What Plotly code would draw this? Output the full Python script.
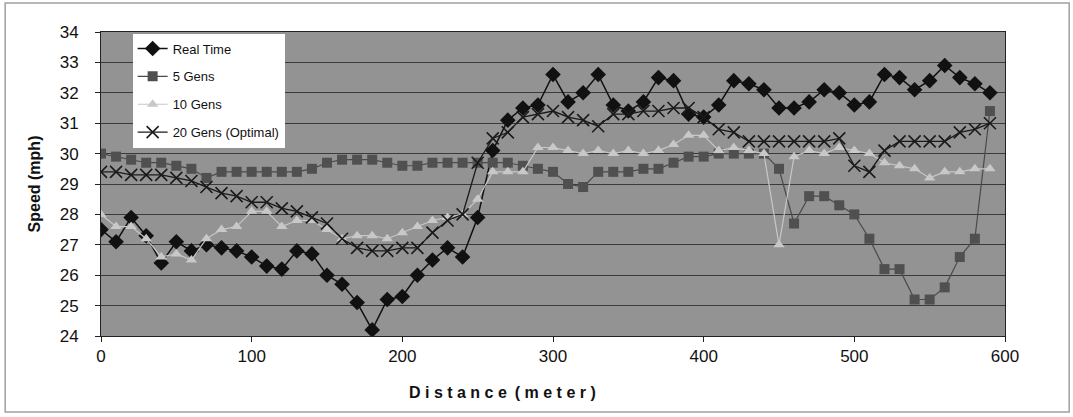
import plotly.graph_objects as go

distance = list(range(0, 600, 10))

real_time = [27.5, 27.1, 27.9, 27.3, 26.4, 27.1, 26.8, 27.0, 26.9, 26.8,
             26.6, 26.3, 26.2, 26.8, 26.7, 26.0, 25.7, 25.1, 24.2, 25.2,
             25.3, 26.0, 26.5, 26.9, 26.6, 27.9, 30.1, 31.1, 31.5, 31.6,
             32.6, 31.7, 32.0, 32.6, 31.6, 31.4, 31.7, 32.5, 32.4, 31.3,
             31.2, 31.6, 32.4, 32.3, 32.1, 31.5, 31.5, 31.7, 32.1, 32.0,
             31.6, 31.7, 32.6, 32.5, 32.1, 32.4, 32.9, 32.5, 32.3, 32.0]

gens5 = [30.0, 29.9, 29.8, 29.7, 29.7, 29.6, 29.5, 29.2, 29.4, 29.4,
         29.4, 29.4, 29.4, 29.4, 29.5, 29.7, 29.8, 29.8, 29.8, 29.7,
         29.6, 29.6, 29.7, 29.7, 29.7, 29.7, 29.7, 29.7, 29.6, 29.5,
         29.4, 29.0, 28.9, 29.4, 29.4, 29.4, 29.5, 29.5, 29.7, 29.9,
         29.9, 30.0, 30.0, 30.0, 30.0, 29.5, 27.7, 28.6, 28.6, 28.3,
         28.0, 27.2, 26.2, 26.2, 25.2, 25.2, 25.6, 26.6, 27.2, 31.4]

gens10 = [28.0, 27.6, 27.6, 27.2, 26.6, 26.7, 26.5, 27.2, 27.5, 27.6,
          28.1, 28.1, 27.6, 27.8, 27.8, 27.5, 27.2, 27.3, 27.3, 27.2,
          27.4, 27.6, 27.8, 27.9, 28.0, 28.5, 29.4, 29.4, 29.4, 30.2,
          30.2, 30.1, 30.0, 30.1, 30.0, 30.1, 30.0, 30.1, 30.3, 30.6,
          30.6, 30.1, 30.2, 30.1, 30.0, 27.0, 29.9, 30.1, 30.0, 30.2,
          30.1, 30.0, 29.7, 29.6, 29.5, 29.2, 29.4, 29.4, 29.5, 29.5]

gens20 = [29.4, 29.4, 29.3, 29.3, 29.3, 29.2, 29.1, 28.9, 28.7, 28.6,
          28.4, 28.4, 28.2, 28.1, 27.9, 27.7, 27.2, 26.9, 26.8, 26.8,
          26.9, 26.9, 27.4, 27.8, 28.0, 29.7, 30.5, 30.7, 31.2, 31.3,
          31.4, 31.2, 31.1, 30.9, 31.3, 31.3, 31.4, 31.4, 31.5, 31.5,
          31.2, 30.8, 30.7, 30.4, 30.4, 30.4, 30.4, 30.4, 30.4, 30.5,
          29.6, 29.4, 30.1, 30.4, 30.4, 30.4, 30.4, 30.7, 30.8, 31.0]

series_names = ["Real Time", "5 Gens", "10 Gens", "20 Gens (Optimal)"]
x_ticks = [0, 100, 200, 300, 400, 500, 600]
y_ticks = list(range(24, 35))

FONT = "Liberation Sans, Arial, sans-serif"

fig = go.Figure()
fig.add_trace(go.Scatter(
    x=distance, y=real_time, name=series_names[0], mode="lines+markers",
    legendgroup="a",
    line=dict(color="#111111", width=1.5),
    marker=dict(symbol="diamond", size=12, color="#111111")))
fig.add_trace(go.Scatter(
    x=distance, y=gens5, name=series_names[1], mode="lines+markers",
    legendgroup="b",
    line=dict(color="#4a4a4a", width=1.2),
    marker=dict(symbol="square", size=10, color="#505050")))
fig.add_trace(go.Scatter(
    x=distance, y=gens10, name=series_names[2], mode="lines+markers",
    legendgroup="c",
    line=dict(color="#c8c8c8", width=1.2),
    marker=dict(symbol="triangle-up", size=10, color="#c8c8c8")))
fig.add_trace(go.Scatter(
    x=distance, y=gens20, name=series_names[3], mode="lines+markers",
    legendgroup="d",
    line=dict(color="#1a1a1a", width=1.3),
    marker=dict(symbol="x-thin", size=12, line=dict(color="#1a1a1a", width=1.6))))

xtitle = "\u2002".join(" ".join(w) for w in "Distance (meter)".split(" "))

fig.update_layout(
    width=1073, height=417,
    margin=dict(l=101, r=68, t=32, b=81),
    paper_bgcolor="white",
    plot_bgcolor="#939393",
    font=dict(family=FONT, color="#111111"),
    showlegend=True,
    legend=dict(x=0.035, y=0.995, xanchor="left", yanchor="top",
                bgcolor="white", borderwidth=0, entrywidth=150,
                font=dict(family=FONT, size=13, color="#111111"),
                tracegroupgap=8),
    xaxis=dict(range=[0, 600], tickvals=x_ticks, showgrid=False,
               zeroline=False, showline=True, linecolor="#222222", linewidth=1,
               mirror=True, ticks="outside", ticklen=5, tickcolor="#222222",
               tickfont=dict(size=17, family=FONT)),
    yaxis=dict(range=[24, 34], tickvals=y_ticks, showgrid=True,
               gridcolor="#3a3a3a", gridwidth=1, zeroline=False,
               showline=True, linecolor="#222222", linewidth=1, mirror=True,
               ticks="outside", ticklen=5, tickcolor="#222222",
               ticklabelstandoff=13,
               tickfont=dict(size=17, family=FONT),
               title=dict(text="<b>Speed (mph)</b>",
                          font=dict(size=16, family=FONT), standoff=15)),
    annotations=[dict(text="<b>" + xtitle + "</b>", xref="paper", yref="paper",
                      x=0.444, y=-0.185, xanchor="center", yanchor="middle",
                      showarrow=False, font=dict(size=16, family=FONT, color="#111111"))],
)

fig.add_shape(type="rect", xref="paper", yref="paper",
              x0=-0.106, x1=1.071, y0=-0.25, y1=1.095,
              line=dict(color="#a0a0a0", width=1.5), fillcolor="rgba(0,0,0,0)",
              layer="below")

fig.write_html("out.html", config={"displayModeBar": False},
               post_script="document.body.style.margin='0';document.body.style.overflow='hidden';")
